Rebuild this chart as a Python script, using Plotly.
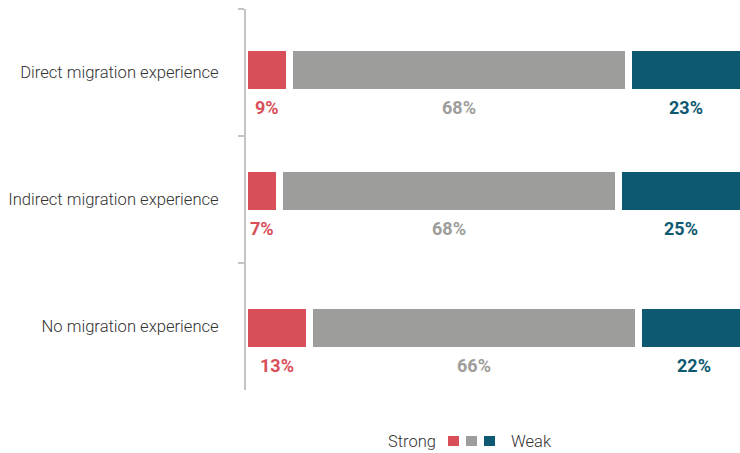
import plotly.graph_objects as go

# Survey responses by migration experience (percent of respondents)
categories = ["Direct migration experience", "Indirect migration experience", "No migration experience"]
strong = [9, 7, 13]
middle = [68, 68, 66]
weak = [23, 25, 22]

RED = "#d84f59"
GREY = "#9d9d9b"
BLUE = "#0e5972"
FONT = "Roboto"

BAR_W = 0.354
BAND_PX = 127.0
# small per-row vertical nudges (pixels, positive = down)
row_nudge_px = [-2.5, -8.5, 1.5]
offsets = [-BAR_W / 2 + d / BAND_PX for d in row_nudge_px]

fig = go.Figure()
series = [("Strong", strong, RED), ("Middle", middle, GREY), ("Weak", weak, BLUE)]
for name, vals, col in series:
    fig.add_trace(go.Bar(
        y=categories, x=vals, name=name, orientation="h",
        marker=dict(color=col, line=dict(color="white", width=7)),
        width=BAR_W, offset=offsets, showlegend=False, hoverinfo="x+y",
    ))

# value labels beneath each segment
for i, cat in enumerate(categories):
    base = 0
    for name, vals, col in series:
        v = vals[i]
        fig.add_annotation(
            x=base + v / 2, y=cat, text=f"<b>{v}%</b>", showarrow=False,
            yshift=-(37 + row_nudge_px[i]),
            font=dict(family=FONT, size=18, color=col),
        )
        base += v

# legend row: Strong ■ ■ ■ Weak
sq = [(0.4089, 0.4312, RED), (0.4453, 0.4676, GREY), (0.4818, 0.5040, BLUE)]
for x0, x1, col in sq:
    fig.add_shape(type="rect", xref="paper", yref="paper", x0=x0, x1=x1,
                  y0=-0.147, y1=-0.1207, fillcolor=col, line=dict(width=0))
fig.add_annotation(xref="paper", yref="paper", x=0.3887, y=-0.1339, text="Strong",
                   xanchor="right", yanchor="middle", showarrow=False,
                   font=dict(family=FONT, size=16.5, color="#333333", weight=300))
fig.add_annotation(xref="paper", yref="paper", x=0.5324, y=-0.1339, text="Weak",
                   xanchor="left", yanchor="middle", showarrow=False,
                   font=dict(family=FONT, size=16.5, color="#333333", weight=300))

fig.update_layout(
    barmode="stack", width=740, height=453,
    margin=dict(l=246, r=0, t=9, b=63),
    plot_bgcolor="white", paper_bgcolor="white",
    font=dict(family=FONT, size=16, color="#333333"),
    # start slightly past zero so the white segment outline mostly hides at the axis
    xaxis=dict(range=[0.3, 99.3], visible=False, showgrid=False, zeroline=False),
    yaxis=dict(
        autorange="reversed", showline=True, linecolor="#c4c4c4", linewidth=2,
        ticks="outside", tickson="boundaries", ticklen=6, tickcolor="#c4c4c4",
        tickwidth=2, showgrid=False, ticklabelstandoff=22,
        tickfont=dict(family=FONT, size=16.6, color="#333333", weight=300),
    ),
)

fig.write_html("out.html")
